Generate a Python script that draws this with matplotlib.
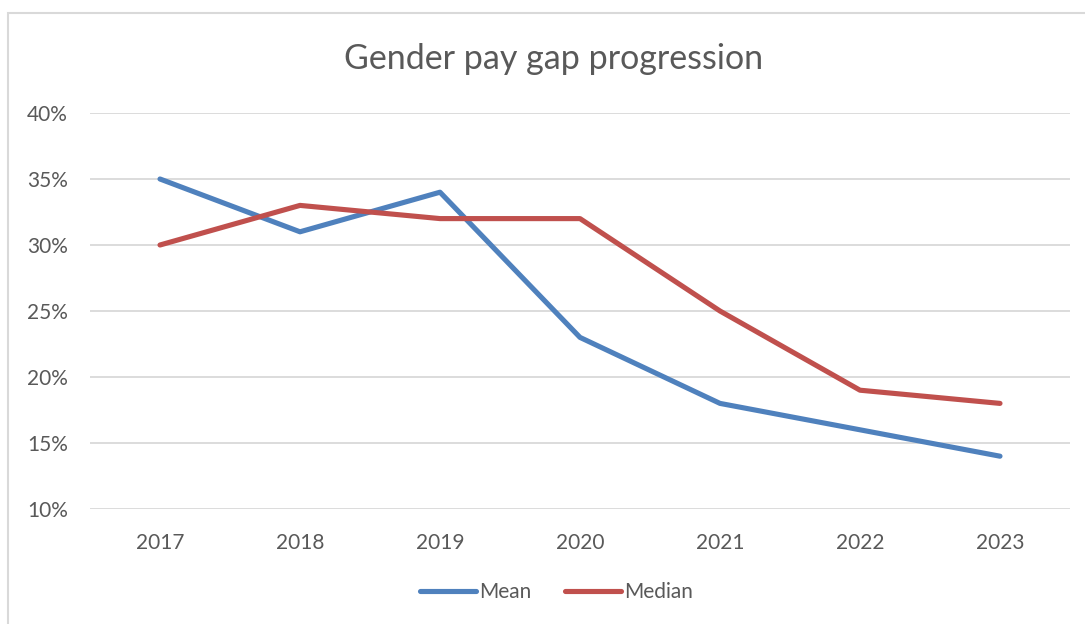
import matplotlib
matplotlib.use('Agg')
import matplotlib.pyplot as plt
from matplotlib.patches import Rectangle
from matplotlib.ticker import PercentFormatter

plt.rcParams['font.family'] = ['Lato', 'DejaVu Sans']

years = ['2017', '2018', '2019', '2020', '2021', '2022', '2023']
mean = [35, 31, 34, 23, 18, 16, 14]
median = [30, 33, 32, 32, 25, 19, 18]

grey = '#595959'
fig = plt.figure(figsize=(10.85, 6.24), dpi=100)
ax = fig.add_axes([90 / 1085, 1 - 509 / 624, 980 / 1085, 396 / 624])

# chart frame (cropped on right and bottom)
fig.patches.append(Rectangle((8 / 1085, -0.1), 1.2, 1 - 13 / 624 + 0.1,
                             transform=fig.transFigure, fill=False,
                             edgecolor='#D9D9D9', linewidth=1.5))

x = range(len(years))
ax.plot(x, mean, color='#4F81BD', lw=3.7, solid_capstyle='round',
        solid_joinstyle='round', label='Mean')
ax.plot(x, median, color='#C0504D', lw=3.7, solid_capstyle='round',
        solid_joinstyle='round', label='Median')

ax.set_xlim(-0.5, 6.5)
ax.set_ylim(10, 40)
ax.set_yticks([10, 15, 20, 25, 30, 35, 40])
ax.yaxis.set_major_formatter(PercentFormatter(decimals=0))
ax.set_xticks(list(x))
ax.set_xticklabels(years)
ax.grid(axis='y', color='#D9D9D9', lw=1.3)
ax.set_axisbelow(True)
for s in ax.spines.values():
    s.set_visible(False)
ax.tick_params(length=0, labelsize=15, labelcolor=grey)
ax.tick_params(axis='y', pad=16)
ax.tick_params(axis='x', pad=17)

fig.text(0.51, 1 - 59 / 624, 'Gender pay gap progression', ha='center',
         va='center', fontsize=24.5, color=grey)

fig.legend(loc='center', bbox_to_anchor=(0.513, 1 - 592 / 624), ncol=2,
           frameon=False, fontsize=15, labelcolor=grey, handlelength=2.7,
           handletextpad=0.15, columnspacing=1.6)

plt.savefig('out.png', dpi=100)
